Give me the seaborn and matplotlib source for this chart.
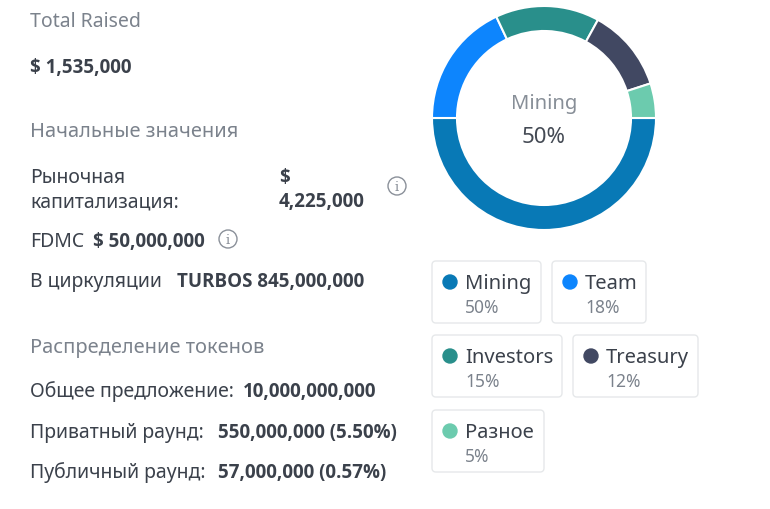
import matplotlib
matplotlib.use("Agg")
import matplotlib.pyplot as plt
from matplotlib.patches import FancyBboxPatch, Circle
import seaborn as sns

# ---- data ----
categories = ["Mining", "Team", "Investors", "Treasury", "Разное"]
shares = [50, 18, 15, 12, 5]
colors = ["#0879b6", "#0d85fd", "#298f8b", "#414862", "#6ccbae"]
center_label = "Mining"
center_value = "50%"

total_raised = "$ 1,535,000"
market_cap = "4,225,000"
fdmc = "$ 50,000,000"
circulating = "TURBOS 845,000,000"
total_supply = "10,000,000,000"
private_round = "550,000,000 (5.50%)"
public_round = "57,000,000 (0.57%)"

sns.set_theme(style="white")
plt.rcParams["font.family"] = ["Noto Sans", "DejaVu Sans"]

GRAY = "#7b828c"
DARK = "#3b414b"

fig = plt.figure(figsize=(7.7, 5.1), dpi=100)
bg = fig.add_axes([0, 0, 1, 1])
bg.set_xlim(0, 770)
bg.set_ylim(510, 0)
bg.axis("off")

FS = 14
BS = 13.5
HS = 14.4
DY = 2
def t(x, y, s, color=DARK, bold=False, size=FS):
    if bold:
        bg.text(x, y + DY, s, color=color, fontsize=size, va="center", ha="left",
                fontweight="bold", family=["Open Sans", "DejaVu Sans"])
    else:
        bg.text(x, y + DY, s, color=color, fontsize=size, va="center", ha="left")

def info_icon(x, y):
    bg.add_patch(Circle((x, y), 9, fill=False, ec="#8a9099", lw=1.0))
    bg.text(x, y + 0.5, "i", color="#8a9099", fontsize=9.5, ha="center", va="center",
            family="DejaVu Serif")

t(30, 20, "Total Raised", GRAY, size=14)
t(30, 66, total_raised, bold=True, size=BS)
t(30, 130, "Начальные значения", GRAY, size=HS)
t(30, 176, "Рыночная")
t(30, 200, "капитализация:")
t(279, 176, "$", bold=True, size=BS)
t(279, 200, market_cap, bold=True, size=BS)
info_icon(397, 187)
t(30, 240, "FDMC")
t(93, 240, fdmc, bold=True, size=BS)
info_icon(228, 240)
t(30, 280, "В циркуляции")
t(177, 280, circulating, bold=True, size=BS)
t(30, 346, "Распределение токенов", GRAY, size=HS)
t(30, 390, "Общее предложение:")
t(243, 390, total_supply, bold=True, size=BS)
t(30, 431, "Приватный раунд:")
t(218, 431, private_round, bold=True, size=BS)
t(30, 471, "Публичный раунд:")
t(218, 471, public_round, bold=True, size=BS)

# ---- donut ----
cx, cy, R = 544, 119, 112
half = 116
ax = fig.add_axes([(cx - half) / 770, 1 - (cy + half) / 510, 2 * half / 770, 2 * half / 510])
ax.pie(shares, colors=colors, startangle=0, counterclock=False, radius=R / half,
       wedgeprops=dict(width=25 / half, edgecolor="white", linewidth=1.5))
ax.set_xlim(-1, 1)
ax.set_ylim(-1, 1)
ax.set_aspect("equal")
ax.text(0, 0.128, center_label, ha="center", va="center", color="#878e97", fontsize=14.5)
ax.text(0, -0.162, center_value, ha="center", va="center", color="#444a54", fontsize=16)

# ---- legend cards ----
boxes = [(432, 262, 109), (552, 262, 94), (432, 336, 130), (573, 336, 125), (432, 411, 112)]
for (bx, by, bw), name, val, col in zip(boxes, categories, shares, colors):
    bg.add_patch(FancyBboxPatch((bx, by), bw, 62, boxstyle="round,pad=0,rounding_size=4",
                                fc="white", ec="#e6e8ea", lw=1.0))
    bg.add_patch(Circle((bx + 18, by + 21), 7, color=col))
    t(bx + 33, by + 20, name, DARK, size=14.5)
    t(bx + 33, by + 44, f"{val}%", GRAY, size=12.5)

fig.savefig("out.png", dpi=100)
